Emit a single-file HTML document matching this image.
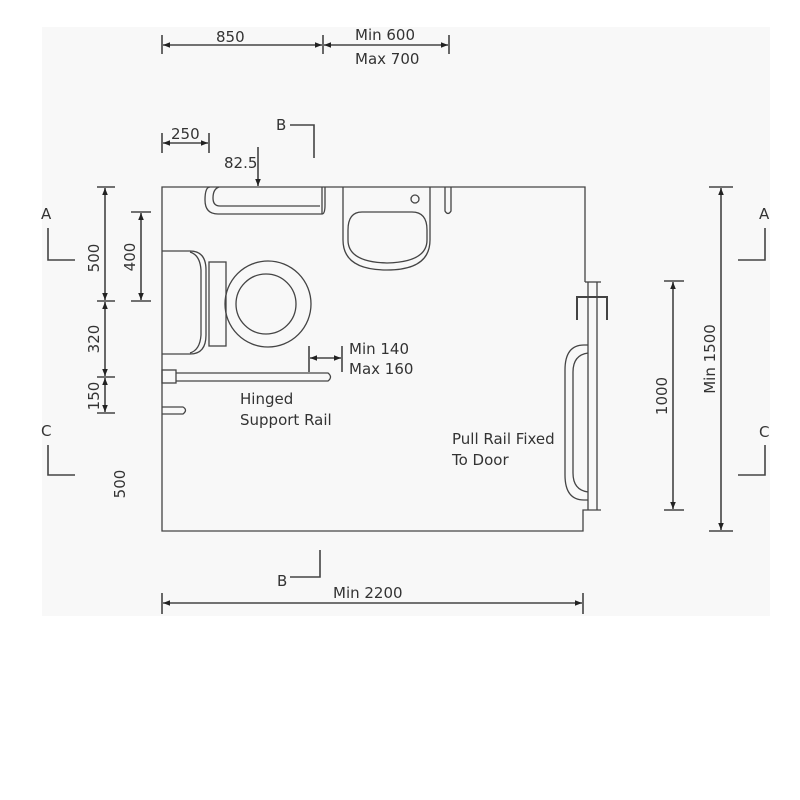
<!DOCTYPE html>
<html><head><meta charset="utf-8"><style>
html,body{margin:0;padding:0;background:#fff;}
svg{display:block;}
text{font-family:"DejaVu Sans","Liberation Sans",sans-serif;font-size:15px;fill:#333;}
</style></head><body>
<svg width="800" height="800" viewBox="0 0 800 800" xmlns="http://www.w3.org/2000/svg">
<defs>
<marker id="ar" viewBox="0 0 10 10" refX="10" refY="5" markerWidth="9" markerHeight="7" orient="auto-start-reverse" markerUnits="userSpaceOnUse"><path d="M0,1 L10,5 L0,9 z" fill="#222"/></marker>
</defs>
<rect x="42" y="27" width="728" height="589" fill="#f8f8f8"/>
<g stroke="#444" stroke-width="1.6" fill="none">
<!-- top dims -->
<line x1="162" y1="35" x2="162" y2="54"/><line x1="323" y1="35" x2="323" y2="54"/><line x1="449" y1="35" x2="449" y2="54"/>
<line x1="163" y1="45" x2="322" y2="45" marker-start="url(#ar)" marker-end="url(#ar)"/>
<line x1="324" y1="45" x2="448" y2="45" marker-start="url(#ar)" marker-end="url(#ar)"/>
<line x1="162" y1="133" x2="162" y2="153"/><line x1="209" y1="133" x2="209" y2="153"/>
<line x1="163" y1="143" x2="208" y2="143" marker-start="url(#ar)" marker-end="url(#ar)"/>
<line x1="258" y1="147" x2="258" y2="186" marker-end="url(#ar)"/>
<polyline points="290,125 314,125 314,158"/>
<polyline points="290,577 320,577 320,550"/>
<line x1="162" y1="593" x2="162" y2="614"/><line x1="583" y1="593" x2="583" y2="614"/>
<line x1="163" y1="603" x2="582" y2="603" marker-start="url(#ar)" marker-end="url(#ar)"/>
<!-- section marks -->
<polyline points="48,228 48,260 75,260"/><polyline points="48,445 48,475 75,475"/>
<polyline points="765,228 765,260 738,260"/><polyline points="765,445 765,475 738,475"/>
<!-- left dims -->
<line x1="97" y1="187" x2="115" y2="187"/><line x1="97" y1="301" x2="115" y2="301"/><line x1="97" y1="377" x2="115" y2="377"/><line x1="97" y1="413" x2="115" y2="413"/>
<line x1="105" y1="188" x2="105" y2="300" marker-start="url(#ar)" marker-end="url(#ar)"/>
<line x1="105" y1="302" x2="105" y2="376" marker-start="url(#ar)" marker-end="url(#ar)"/>
<line x1="105" y1="378" x2="105" y2="412" marker-start="url(#ar)" marker-end="url(#ar)"/>
<line x1="131" y1="212" x2="151" y2="212"/><line x1="131" y1="301" x2="151" y2="301"/>
<line x1="141" y1="213" x2="141" y2="300" marker-start="url(#ar)" marker-end="url(#ar)"/>
<!-- right dims -->
<line x1="664" y1="281" x2="684" y2="281"/><line x1="664" y1="510" x2="684" y2="510"/>
<line x1="673" y1="282" x2="673" y2="509" marker-start="url(#ar)" marker-end="url(#ar)"/>
<line x1="709" y1="187" x2="733" y2="187"/><line x1="709" y1="531" x2="733" y2="531"/>
<line x1="721" y1="188" x2="721" y2="530" marker-start="url(#ar)" marker-end="url(#ar)"/>
<!-- min140 dim -->
<line x1="309" y1="346" x2="309" y2="372"/><line x1="342" y1="346" x2="342" y2="372"/>
<line x1="310" y1="358" x2="341" y2="358" marker-start="url(#ar)" marker-end="url(#ar)"/>
</g>
<g stroke="#444" stroke-width="1.3" fill="none">
<!-- walls -->
<polyline points="585,282 585,187 162,187 162,531 583,531 583,510 601,510"/>
<line x1="585" y1="282" x2="601" y2="282"/>
<line x1="588" y1="282" x2="588" y2="510"/><line x1="597" y1="282" x2="597" y2="510"/>
<polyline points="577,320 577,297 607,297 607,320" stroke-width="2"/>
<!-- pull rail -->
<path d="M588,345 L584,345 Q565,345 565,370 L565,475 Q565,500 584,500 L588,500"/>
<path d="M588,353 Q573,355 573,372 L573,473 Q573,490 588,492"/>
<!-- top grab rail -->
<path d="M210,187 Q205,187 205,200 Q205,214 218,214 L322,214 Q325,214 325,205 L325,187"/>
<path d="M219,187 Q213,189 213,198 Q213,206 220,206 L320,206"/>
<path d="M322,187 L322,214"/>
<!-- basin -->
<path d="M343,187 L343,240 Q343,270 387,270 Q430,270 430,240 L430,187"/>
<path d="M348,230 Q348,212 362,212 L412,212 Q427,212 427,230 L427,240 Q427,262 387,263 Q348,262 348,240 Z"/>
<circle cx="415" cy="199" r="4"/>
<path d="M445,187 L445,211 Q448,216 451,211 L451,187"/>
<!-- toilet -->
<path d="M162,251 L190,251 Q206,251 206,270 L206,335 Q206,354 190,354 L162,354"/>
<path d="M190,252 Q200,255 201,270 L201,335 Q200,350 190,353"/>
<rect x="209" y="262" width="17" height="84"/>
<circle cx="268" cy="304" r="43"/>
<circle cx="266" cy="304" r="30"/>
<!-- hinged rail -->
<rect x="162" y="370" width="14" height="13"/>
<path d="M176,373 L328,373 Q333,377 328,381 L176,381"/>
<path d="M162,407 L183,407 Q188,410 183,414 L162,414"/>
</g>
<text x="216" y="42">850</text>
<text x="355" y="40">Min 600</text>
<text x="355" y="64">Max 700</text>
<text x="171" y="139">250</text>
<text x="224" y="168">82.5</text>
<text x="276" y="130">B</text>
<text x="277" y="586">B</text>
<text x="333" y="598">Min 2200</text>
<text x="41" y="219">A</text>
<text x="41" y="436">C</text>
<text x="759" y="219">A</text>
<text x="759" y="437">C</text>
<text x="349" y="354">Min 140</text>
<text x="349" y="374">Max 160</text>
<text x="240" y="404">Hinged</text>
<text x="240" y="425">Support Rail</text>
<text x="452" y="444">Pull Rail Fixed</text>
<text x="452" y="465">To Door</text>
<text transform="translate(99,258) rotate(-90)" text-anchor="middle">500</text>
<text transform="translate(99,339) rotate(-90)" text-anchor="middle">320</text>
<text transform="translate(99,396) rotate(-90)" text-anchor="middle">150</text>
<text transform="translate(135,257) rotate(-90)" text-anchor="middle">400</text>
<text transform="translate(125,484) rotate(-90)" text-anchor="middle">500</text>
<text transform="translate(667,396) rotate(-90)" text-anchor="middle">1000</text>
<text transform="translate(715,359) rotate(-90)" text-anchor="middle">Min 1500</text>
</svg>
</body></html>
